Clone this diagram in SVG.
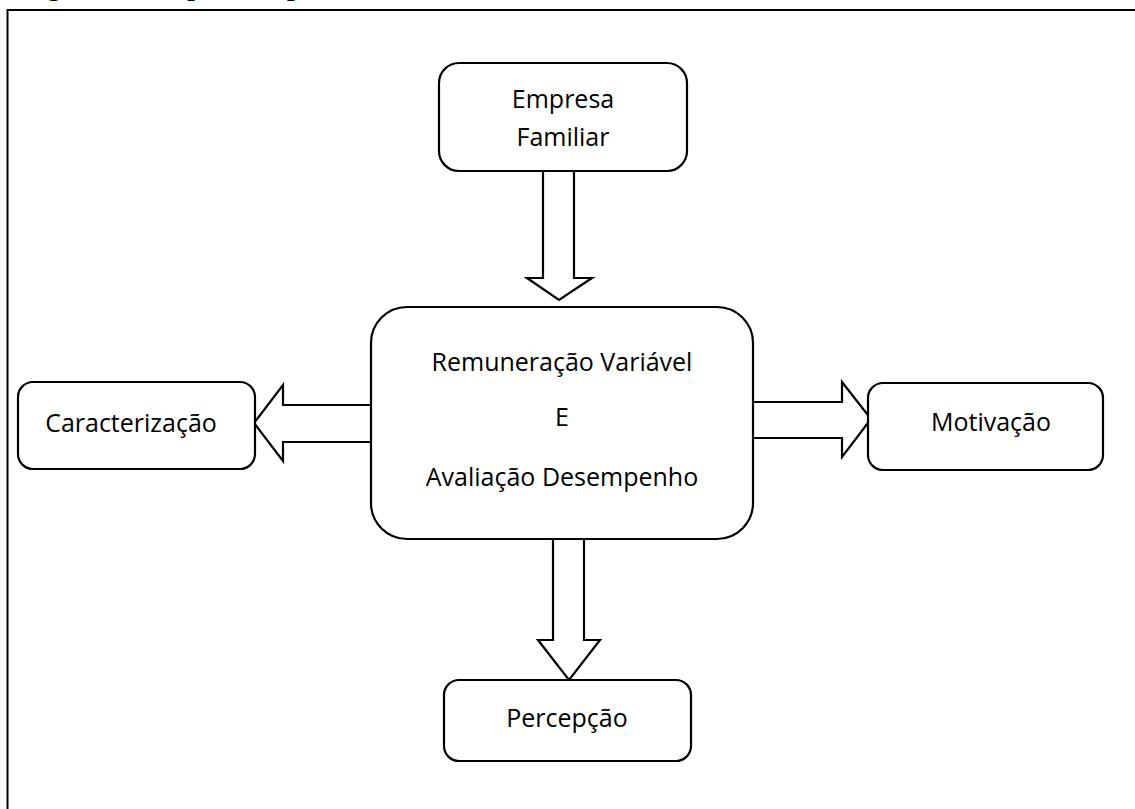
<svg xmlns="http://www.w3.org/2000/svg" width="1135" height="809" viewBox="0 0 1135 809">
<style>
.box{fill:#fff;stroke:#000;stroke-width:2.2}
.arr{fill:#fff;stroke:#000;stroke-width:2.2;stroke-linejoin:miter}
.t{font-family:"Open Sans","Liberation Sans",sans-serif;font-size:25px;fill:#000;text-anchor:middle}
.cap{font-family:"Liberation Serif",serif;font-size:27px;font-weight:bold;fill:#000}
</style>
<rect width="1135" height="809" fill="#fff"/>
<text class="cap" x="23" y="-5">Figura 1 – Mapa conceptual</text>
<path d="M7.5 809 V10 H1135" fill="none" stroke="#000" stroke-width="2"/>
<g id="connectors">
<path class="arr" d="M543 171 V278 H527 L559 300 L592 278 H574 V171"/>
<path class="arr" d="M372 405 H283 V385 L254 423 L283 461 V442 H372"/>
<path class="arr" d="M753 402 H842 V382 L871 419 L842 457 V438 H753"/>
<path class="arr" d="M553 539 V640 H538 L569 680 L600 640 H584 V539"/>
</g>
<g id="empresa">
<rect class="box" x="439" y="63" width="248" height="108" rx="20"/>
<text class="t" x="563" y="108">Empresa</text>
<text class="t" x="563" y="146">Familiar</text>
</g>
<g id="central">
<rect class="box" x="371" y="307" width="382" height="232" rx="36"/>
<text class="t" x="562" y="371">Remuneração Variável</text>
<text class="t" x="562" y="426">E</text>
<text class="t" x="562" y="486">Avaliação Desempenho</text>
</g>
<g id="caracterizacao">
<rect class="box" x="18" y="382" width="237" height="87" rx="15"/>
<text class="t" x="131" y="432">Caracterização</text>
</g>
<g id="motivacao">
<rect class="box" x="868" y="383" width="235" height="87" rx="15"/>
<text class="t" x="991" y="431">Motivação</text>
</g>
<g id="percepcao">
<rect class="box" x="444" y="680" width="247" height="81" rx="15"/>
<text class="t" x="567" y="727">Percepção</text>
</g>
</svg>
